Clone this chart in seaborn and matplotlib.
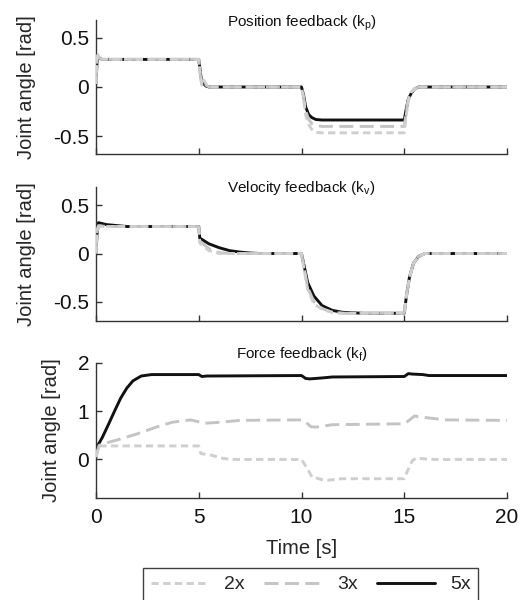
import numpy as np
import pandas as pd
import matplotlib
matplotlib.use("Agg")
import matplotlib.pyplot as plt
import matplotlib.transforms as mtransforms
import seaborn as sns

# ---------------- data ----------------
gains = ["2x", "3x", "5x"]

# Position feedback (k_p)
t_pos = [0, 0.05, 0.1, 0.2, 0.3, 5.0, 5.08, 5.15, 5.25, 5.35, 5.5,
         10.0, 10.1, 10.2, 10.35, 10.5, 10.7, 11.0,
         15.0, 15.1, 15.2, 15.35, 15.5, 15.7, 20.0]
pos_5x = [0.03, 0.25, 0.30, 0.29, 0.28, 0.28, 0.15, 0.04, 0.03, 0.01, 0.0,
          0.0, -0.08, -0.20, -0.28, -0.31, -0.33, -0.335,
          -0.335, -0.22, -0.12, -0.06, -0.02, 0.0, 0.0]
pos_3x = [0.03, 0.28, 0.32, 0.29, 0.28, 0.28, 0.12, 0.03, 0.06, 0.02, 0.0,
          0.0, -0.10, -0.24, -0.33, -0.37, -0.39, -0.40,
          -0.40, -0.25, -0.12, -0.05, -0.02, 0.0, 0.0]
pos_2x = [0.03, 0.30, 0.33, 0.29, 0.28, 0.28, 0.10, 0.02, 0.07, 0.03, 0.0,
          0.0, -0.12, -0.28, -0.38, -0.43, -0.46, -0.465,
          -0.465, -0.28, -0.14, -0.05, -0.02, 0.0, 0.0]

# Velocity feedback (k_v)
t_vel = [0, 0.05, 0.12, 0.5, 1.0, 1.5, 5.0, 5.05, 5.2, 5.5, 6.0, 6.5, 7.0, 7.5, 8.0,
         10.0, 10.1, 10.3, 10.6, 11.0, 11.5, 12.0, 13.0,
         15.0, 15.1, 15.25, 15.45, 15.7, 16.0, 20.0]
vel_5x = [0.0, 0.20, 0.32, 0.30, 0.29, 0.28, 0.28, 0.16, 0.14, 0.10, 0.06, 0.03, 0.015, 0.005, 0.0,
          0.0, -0.10, -0.30, -0.44, -0.54, -0.59, -0.61, -0.62,
          -0.62, -0.45, -0.25, -0.10, -0.03, 0.0, 0.0]
vel_3x = [0.0, 0.22, 0.29, 0.28, 0.28, 0.28, 0.28, 0.13, 0.10, 0.05, 0.01, 0.0, 0.0, 0.0, 0.0,
          0.0, -0.12, -0.35, -0.50, -0.57, -0.61, -0.62, -0.62,
          -0.62, -0.45, -0.25, -0.10, -0.03, 0.0, 0.0]
vel_2x = [0.0, 0.24, 0.28, 0.28, 0.28, 0.28, 0.28, 0.11, 0.08, 0.03, 0.0, 0.0, 0.0, 0.0, 0.0,
          0.0, -0.13, -0.37, -0.52, -0.58, -0.61, -0.62, -0.62,
          -0.62, -0.45, -0.25, -0.10, -0.03, 0.0, 0.0]

# Force feedback (k_f)
t_f5 = [0, 0.1, 0.3, 0.6, 0.9, 1.2, 1.5, 1.8, 2.2, 2.7, 5.0, 5.15, 5.4,
        10.0, 10.2, 10.4, 11.0, 11.5, 15.0, 15.2, 15.4, 15.9, 16.2, 20.0]
frc_5x = [0.05, 0.30, 0.45, 0.72, 1.00, 1.27, 1.48, 1.63, 1.73, 1.76, 1.76, 1.72, 1.73,
          1.74, 1.68, 1.67, 1.69, 1.71, 1.72, 1.78, 1.77, 1.76, 1.74, 1.74]
t_f3 = [0, 0.15, 0.4, 1.0, 2.0, 3.0, 3.7, 4.6, 5.0, 5.3, 6.0, 7.0,
        10.0, 10.2, 10.45, 10.7, 11.5, 15.0, 15.2, 15.5, 16.0, 17.0, 20.0]
frc_3x = [0.05, 0.29, 0.33, 0.40, 0.53, 0.68, 0.77, 0.82, 0.78, 0.75, 0.77, 0.81,
          0.82, 0.78, 0.68, 0.67, 0.72, 0.74, 0.80, 0.90, 0.87, 0.82, 0.81]
t_f2 = [0, 0.15, 5.0, 5.1, 5.5, 6.2, 6.6, 10.0, 10.3, 10.5, 11.0, 11.3, 12.0,
        15.0, 15.2, 15.4, 15.6, 16.0, 16.5, 20.0]
frc_2x = [0.05, 0.28, 0.28, 0.12, 0.10, 0.02, 0.0, 0.0, -0.20, -0.36, -0.42, -0.43, -0.40,
          -0.40, -0.20, -0.02, 0.03, 0.01, 0.0, 0.0]

titles = ["Position feedback (k$_\\mathregular{p}$)",
          "Velocity feedback (k$_\\mathregular{v}$)",
          "Force feedback (k$_\\mathregular{f}$)"]
ylims = [(-0.68, 0.68), (-0.7, 0.69), (-0.8, 2.0)]
yticks = [[-0.5, 0, 0.5], [-0.5, 0, 0.5], [0, 1, 2]]
yticklabels = [["-0.5", "0", "0.5"], ["-0.5", "0", "0.5"], ["0", "1", "2"]]
xticks = [0, 5, 10, 15, 20]

panels = [
    {"2x": (t_pos, pos_2x), "3x": (t_pos, pos_3x), "5x": (t_pos, pos_5x)},
    {"2x": (t_vel, vel_2x), "3x": (t_vel, vel_3x), "5x": (t_vel, vel_5x)},
    {"2x": (t_f2, frc_2x), "3x": (t_f3, frc_3x), "5x": (t_f5, frc_5x)},
]

# ---------------- style ----------------
sns.set_theme(style="ticks")
plt.rcParams["font.family"] = ["Liberation Sans", "DejaVu Sans"]
plt.rcParams["mathtext.fontset"] = "custom"
plt.rcParams["mathtext.rm"] = "Liberation Sans"
plt.rcParams["mathtext.it"] = "Liberation Sans"

styles = {
    "2x": dict(color="#cfcfcf", lw=2.1, linestyle=(0, (2.5, 1.5)), zorder=4),
    "3x": dict(color="#c4c4c4", lw=2.1, linestyle=(0, (4.8, 2.2)), zorder=3),
    "5x": dict(color="#111111", lw=2.1, linestyle="-", zorder=2),
}

W, H = 531, 600
fig = plt.figure(figsize=(W / 100, H / 100), dpi=100)
# (left, top, right, bottom) in pixels
px_boxes = [(96, 20, 507, 154), (96, 187, 507, 321), (96, 363, 507, 498)]
title_base = [27, 192, 358]  # title baseline, pixels from top

axes = []
for i, (pb, pdata) in enumerate(zip(px_boxes, panels)):
    l, t, r, b = pb
    ax = fig.add_axes((l / W, 1 - b / H, (r - l) / W, (b - t) / H))
    axes.append(ax)
    for g in ["5x", "3x", "2x"]:
        tt, v = pdata[g]
        df = pd.DataFrame({"t": tt, "angle": v})
        sns.lineplot(data=df, x="t", y="angle", ax=ax, estimator=None,
                     sort=False, label=g, legend=False, **styles[g])
    ax.set_xlim(0, 20)
    ax.set_ylim(*ylims[i])
    ax.set_yticks(yticks[i])
    ax.set_yticklabels(yticklabels[i])
    ax.set_xticks(xticks)
    ax.set_ylabel("Joint angle [rad]", fontsize=14.5, labelpad=12)
    trans = mtransforms.offset_copy(ax.transAxes, fig=fig,
                                    y=-(title_base[i] - t), units="dots")
    ax.text(0.5, 1.0, titles[i], transform=trans, ha="center", va="baseline",
            fontsize=11, color="#111111")
    sns.despine(ax=ax)
    for s in ["left", "bottom"]:
        ax.spines[s].set_color("#333333")
        ax.spines[s].set_linewidth(1.0)
    ax.tick_params(direction="in", length=4, width=1, colors="#333333",
                   labelsize=15, labelcolor="#111111")
    ax.tick_params(axis="y", pad=5)
    if i < 2:
        ax.set_xticklabels([])
        ax.set_xlabel("")
    else:
        ax.set_xticklabels([str(x) for x in xticks])
        ax.tick_params(axis="x", pad=7)
        ax.set_xlabel("Time [s]", fontsize=14.5, labelpad=9)
    ax.patch.set_alpha(0)

handles, labels = axes[2].get_legend_handles_labels()
order = [labels.index(g) for g in gains]
leg = fig.legend([handles[k] for k in order], [labels[k] for k in order],
                 loc="upper center", bbox_to_anchor=(0.585, 1 - 568 / H), ncol=3,
                 frameon=True, fancybox=False, edgecolor="#111111",
                 fontsize=14, handlelength=3.0, columnspacing=1.0,
                 handletextpad=0.75, borderpad=0.4, borderaxespad=0)
leg.get_frame().set_linewidth(1.0)

fig.savefig("out.png", dpi=100)
